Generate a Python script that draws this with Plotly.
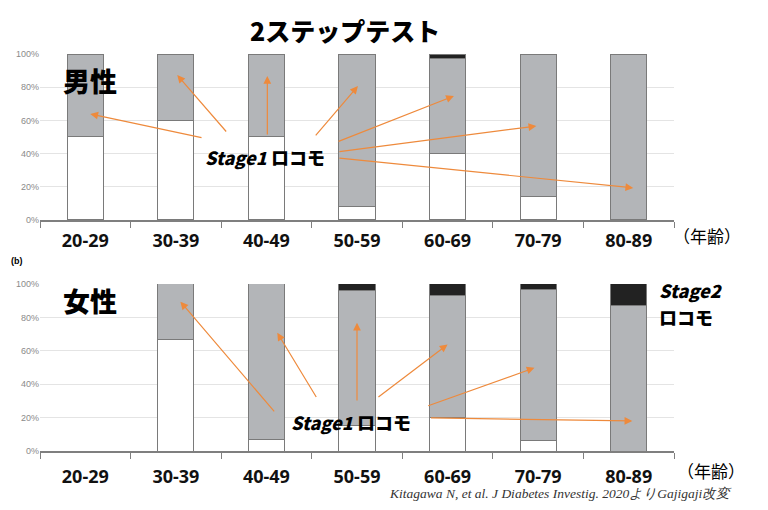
import plotly.graph_objects as go
from plotly.subplots import make_subplots

categories = ["20-29", "30-39", "40-49", "50-59", "60-69", "70-79", "80-89"]

# Men (percent)
men_none = [50, 60, 50, 8, 40, 14, None]
men_stage1 = [50, 40, 50, 92, 57.4, 86, 100]
men_stage2 = [None, None, None, None, 2.6, None, None]

# Women (percent)
women_none = [None, 67, 7, 15.5, 20, 6, None]
women_stage1 = [None, 33, 93, 80.5, 73, 90.4, 87]
women_stage2 = [None, None, None, 4, 7, 3.6, 13]

y_ticks = [0, 20, 40, 60, 80, 100]
y_tick_labels = ["0%", "20%", "40%", "60%", "80%", "100%"]

WHITE = "#ffffff"
GRAY = "#b3b5b8"
BLACK = "#222222"
EDGE = "#7a7a7a"
ORANGE = "#ee8a3c"

fig = make_subplots(rows=2, cols=1, vertical_spacing=0.16)

def add_stack(row, none, s1, s2):
    for vals, col in ((none, WHITE), (s1, GRAY), (s2, BLACK)):
        fig.add_trace(go.Bar(x=categories, y=vals, width=0.4,
                             marker=dict(color=col, line=dict(color=EDGE, width=1)),
                             showlegend=False, hoverinfo="skip"), row=row, col=1)

add_stack(1, men_none, men_stage1, men_stage2)
add_stack(2, women_none, women_stage1, women_stage2)

fig.update_layout(
    width=768, height=510, barmode="stack", bargap=0.6,
    margin=dict(l=40, r=94, t=54, b=59),
    paper_bgcolor="white", plot_bgcolor="white",
    font=dict(family="Noto Sans CJK JP, Noto Sans, sans-serif"),
)
fig.update_yaxes(range=[0, 100], tickmode="array", tickvals=y_ticks, ticktext=y_tick_labels,
                 showgrid=True, gridcolor="#e4e4e4", gridwidth=1,
                 zeroline=False, showline=False,
                 tickfont=dict(size=9, color="#8a8a8a", family="Liberation Sans"))
fig.update_xaxes(showline=True, linecolor="#7f7f7f", linewidth=1.5,
                 ticks="outside", tickson="boundaries", ticklen=6,
                 tickcolor="#7f7f7f", showgrid=False,
                 tickfont=dict(size=18, color="#111111", family="Noto Sans", weight="bold"))
fig.update_xaxes(ticklabelstandoff=4, row=1, col=1)
fig.update_xaxes(ticklabelstandoff=9, row=2, col=1)
fig.layout.yaxis.domain = [0.582, 1.0]
fig.layout.yaxis2.domain = [0.0, 0.4207]

heavy = "Noto Sans CJK JP"
ann = []
def txt(x, y, s, size, xanchor="center", **kw):
    d = dict(x=x, y=y, xref="paper", yref="paper", text=s, showarrow=False,
             xanchor=xanchor, yanchor="middle",
             font=dict(size=size, color=kw.pop("color", "#000000"), family=kw.pop("family", heavy),
                       weight=kw.pop("weight", "bold"), style=kw.pop("style", "normal")))
    d.update(kw)
    ann.append(d)

txt(0.481, 1.060, "2ステップテスト", 25, weight=900)
txt(0.079, 0.9345, "男性", 27, weight=900)
txt(0.079, 0.380, "女性", 27, weight=900)
txt(-0.036, 0.4786, "(b)", 9, family="Liberation Sans")
txt(0.973, 0.4055, "<i>Stage2</i>", 18, xanchor="left", weight=900)
txt(0.973, 0.338, "ロコモ", 18, xanchor="left", weight=900)
txt(1.052, 0.544, "（年齢）", 17, weight="normal")
txt(1.058, -0.048, "（年齢）", 17, weight="normal")
txt(1.095, -0.106, "Kitagawa N, et al. J Diabetes Investig. 2020よりGajigaji改変", 13.5,
    xanchor="right", family="Liberation Serif", weight="normal", style="italic",
    color="#333333")

# Stage1 labels (data coords)
ann.append(dict(x=1.98, y=38, xref="x", yref="y", text="<i>Stage1</i> ロコモ", showarrow=False,
                font=dict(size=18, color="#000", family=heavy, weight=900)))
ann.append(dict(x=2.93, y=17.4, xref="x2", yref="y2", text="<i>Stage1</i> ロコモ", showarrow=False,
                font=dict(size=18, color="#000", family=heavy, weight=900)))

men_arrows = [  # (tail_x, tail_y, head_x, head_y)
    (1.30, 49.4, 0.055, 63.9),
    (1.57, 52.4, 1.015, 87.3),
    (2.01, 50.6, 2.01, 86.7),
    (2.53, 50.0, 3.01, 80.7),
    (2.78, 47.0, 4.07, 74.7),
    (2.79, 41.0, 4.98, 56.6),
    (2.79, 37.3, 6.05, 19.3),
]
women_arrows = [
    (2.10, 22.8, 1.05, 89.4),
    (2.56, 31.4, 2.12, 70.8),
    (3.00, 29.4, 3.00, 76.8),
    (3.22, 31.6, 4.00, 63.8),
    (3.77, 26.8, 4.96, 49.8),
    (3.80, 19.8, 6.04, 18.0),
]
for ax_, xr, yr in ((men_arrows, "x", "y"), (women_arrows, "x2", "y2")):
    for tx, ty, hx, hy in ax_:
        ann.append(dict(x=hx, y=hy, ax=tx, ay=ty, xref=xr, yref=yr, axref=xr, ayref=yr,
                        text="", showarrow=True, arrowhead=2, arrowsize=1.3,
                        arrowwidth=1.2, arrowcolor=ORANGE))

fig.update_layout(annotations=ann)
fig.write_html("out.html", config={"displayModeBar": False},
               post_script="document.body.style.margin='0';")
